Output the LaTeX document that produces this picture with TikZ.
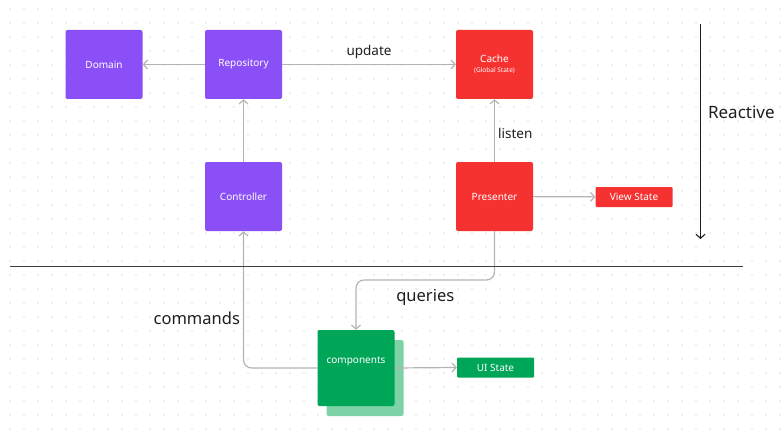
\documentclass[tikz,border=0pt]{standalone}
\usepackage{fontspec}
\setmainfont{Noto Sans}
\usepackage{tikz}
\usetikzlibrary{arrows.meta}

\definecolor{purplebox}{RGB}{138,79,247}
\definecolor{redbox}{RGB}{245,50,48}
\definecolor{greenbox}{RGB}{0,166,88}
\definecolor{greenshade}{RGB}{125,211,166}
\definecolor{wire}{RGB}{180,180,180}
\definecolor{griddot}{RGB}{185,185,185}
\definecolor{ink}{RGB}{30,30,30}

\begin{document}
\begin{tikzpicture}[x=1pt, y=-1pt,
    box/.style={rounded corners=2pt, minimum width=77pt, minimum height=69pt, inner sep=0pt,
                text=white, font=\fontsize{10}{12}\selectfont, align=center},
    tag/.style={rounded corners=1pt, minimum width=77pt, minimum height=20pt, inner sep=0pt,
                text=white, font=\fontsize{10}{12}\selectfont},
    conn/.style={draw=wire, line width=1.2pt, -{Straight Barb[length=4pt, width=9pt]}},
    lbl/.style={text=ink, inner sep=3pt}]
            \useasboundingbox (0,0) rectangle (783,433);
            \foreach \i in {0,...,55} {
                \foreach \j in {0,...,30} {
                    \fill[griddot] (10+14*\i, 9+14*\j) circle (0.7pt);
                }
            }

            \node[box, fill=purplebox] (domain) at (104,64.5) {Domain};
            \node[box, fill=purplebox] (repo) at (243.5,64.5) {Repository};
            \node[box, fill=redbox] (cache) at (494.5,64.5) {Cache\\[-2pt]{\fontsize{6.5}{8}\selectfont (Global State)}};
            \node[box, fill=purplebox] (ctrl) at (243.5,196.5) {Controller};
            \node[box, fill=redbox] (pres) at (494.5,196.5) {Presenter};
            \node[tag, fill=redbox] (viewstate) at (634,197) {View State};

            \node[box, fill=greenshade, minimum height=76pt] (shade) at (365,378) {};
            \node[box, fill=greenbox, minimum height=76pt] (comp) at (356,368) {\raisebox{16pt}{components}};
            \node[tag, fill=greenbox] (uistate) at (495.5,367.5) {UI State};

            \draw[conn] (repo) -- (domain);
            \draw[conn] (repo) -- node[lbl, above=2pt, font=\fontsize{13.5}{15}\selectfont] {update} (cache);
            \draw[conn] (ctrl) -- (repo);
            \draw[conn] (pres) -- node[lbl, right, pos=0.45, font=\fontsize{13.5}{15}\selectfont] {listen} (cache);
            \draw[conn] (pres) -- (viewstate);
            \draw[conn] (comp.east) -- (uistate.west);

            \draw[conn, rounded corners=8pt] (comp.west) -| node[lbl, left, pos=0.68, font=\fontsize{16.5}{18}\selectfont] {commands} (ctrl);

            \coordinate (qbend) at (356,280);
            \draw[conn, rounded corners=8pt] (pres) |- node[lbl, below=6pt, pos=0.75, font=\fontsize{16.5}{18}\selectfont] {queries} (qbend) -- (comp);

            % divider
            \coordinate (divl) at (10,266.5);
            \coordinate (divr) at (743,266.5);
            \draw[line width=1.8pt, ink!85] (divl) -- (divr);

            % reactive
            \coordinate (rtop) at (700.5,24);
            \coordinate (rbot) at (700.5,239);
            \draw[ink, line width=1.1pt, -{Straight Barb[length=4pt, width=9pt]}] (rtop) -- node[lbl, right=4pt, pos=0.41, font=\fontsize{17}{18}\selectfont] {Reactive} (rbot);

        \end{tikzpicture}
\end{document}
